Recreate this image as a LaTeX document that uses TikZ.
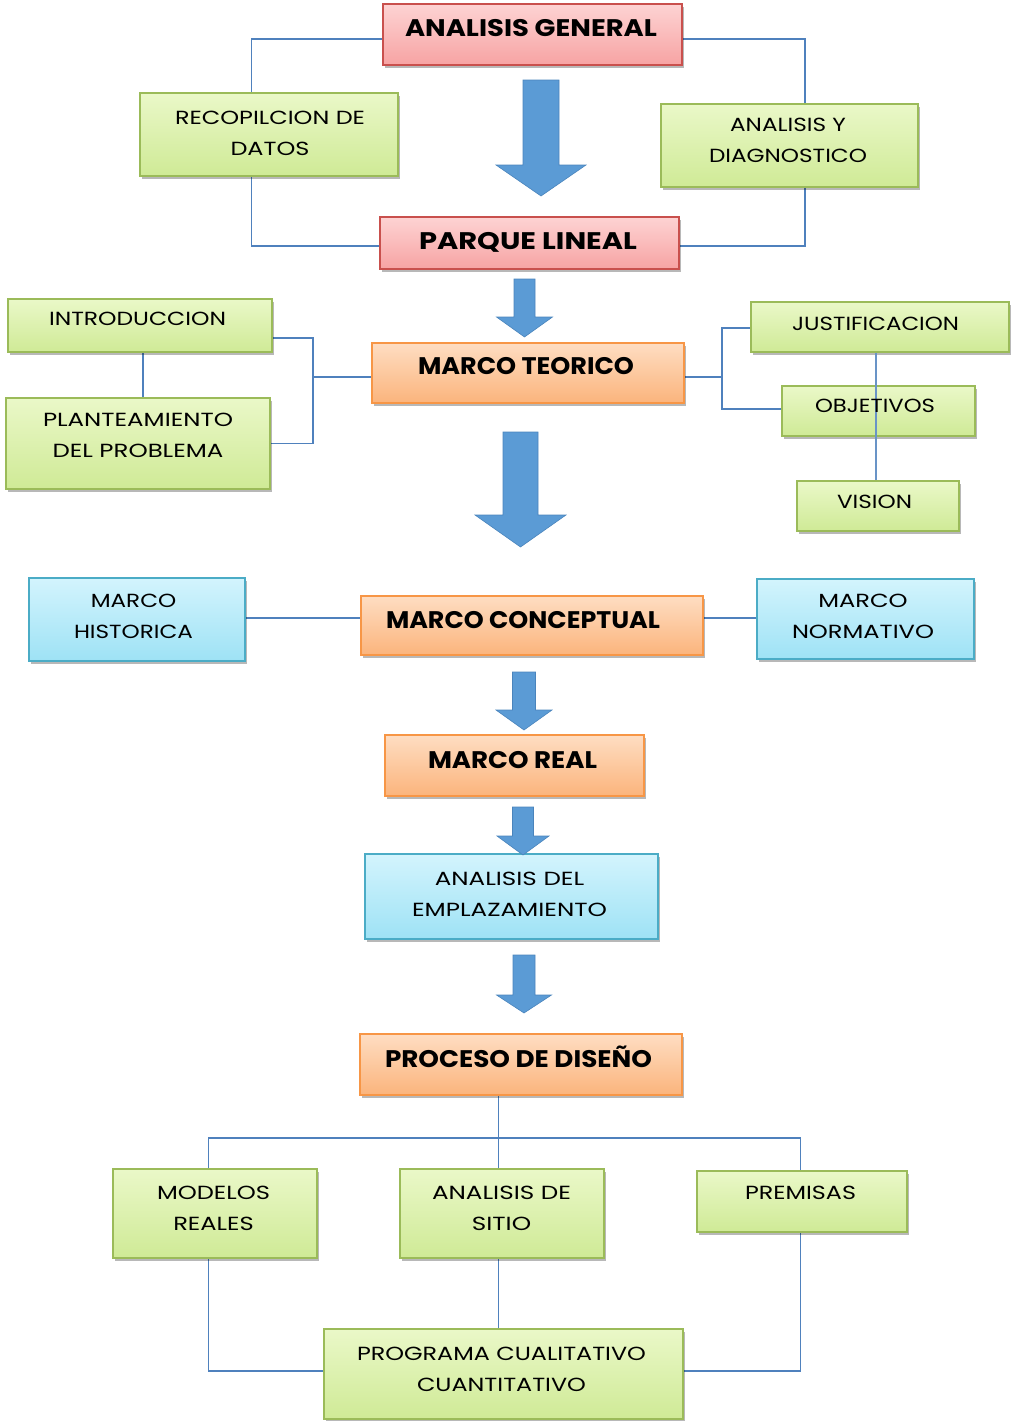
\documentclass[tikz,border=0pt]{standalone}
\usepackage{fontspec}
\setmainfont{Poppins}
\usepackage{graphicx}
\usetikzlibrary{shadows,backgrounds}

\definecolor{redB}{HTML}{F7A3A3}
\definecolor{redT}{HTML}{FDD3D3}
\definecolor{redE}{HTML}{C9504D}
\definecolor{grnT}{HTML}{EAF8C8}
\definecolor{grnB}{HTML}{CFEA96}
\definecolor{grnE}{HTML}{9BBB59}
\definecolor{orgT}{HTML}{FEDDC2}
\definecolor{orgB}{HTML}{FBB47C}
\definecolor{orgE}{HTML}{F79646}
\definecolor{bluT}{HTML}{D3F4FD}
\definecolor{bluB}{HTML}{9EE2F5}
\definecolor{bluE}{HTML}{4BACC6}
\definecolor{lineblue}{HTML}{4F81BD}
\definecolor{arrowblue}{HTML}{5B9BD5}
\definecolor{arrowedge}{HTML}{4A84BC}

\newsavebox\fitbox
\newcommand\fitw[2]{\sbox\fitbox{#2}\pgfmathsetmacro\fitsx{#1/\the\wd\fitbox}\scalebox{\fitsx}[1]{\usebox\fitbox}}
\newcommand\fB{\fontsize{24}{42}\selectfont\bfseries}
\newcommand\fR{\fontsize{19}{31}\selectfont}

\newcommand\bx[6]{\node[#6,minimum width={(#4-#2)*1pt},minimum height={(#5-#3)*1pt}] (#1) at ({(#2+#4)/2},{(#3+#5)/2}) {};}
\newcommand\tx[6]{\node[lbl] (#1) at (#2,#3) {#4\fitw{#5}{\begin{tabular}{@{}c@{}}#6\end{tabular}}};}
\newcommand\barrow[6]{% cx, shaft width, top, head base, tip, head width
  \fill[barrowst] ({#1-#2/2},#3) -- ({#1+#2/2},#3) -- ({#1+#2/2},#4) -- ({#1+#6/2},#4)
     -- (#1,#5) -- ({#1-#6/2},#4) -- ({#1-#2/2},#4) -- cycle;}

\tikzset{
  box/.style={draw, line width=1.4pt, inner sep=0pt,
    drop shadow={shadow xshift=1.5pt, shadow yshift=-3pt, opacity=0.28, fill=black}},
  pinkbox/.style={box, draw=redE, top color=redT, bottom color=redB},
  greenbox/.style={box, draw=grnE, top color=grnT, bottom color=grnB},
  orangebox/.style={box, draw=orgE, top color=orgT, bottom color=orgB},
  bluebox/.style={box, draw=bluE, top color=bluT, bottom color=bluB},
  lbl/.style={inner sep=0pt, text=black},
  conn/.style={draw=lineblue, line width=1.8pt},
  barrowst/.style={fill=arrowblue, draw=arrowedge, line width=0.6pt, line join=miter},
}

\begin{document}
\begin{tikzpicture}[x=1pt,y=-1pt]
\useasboundingbox (0,0) rectangle (1011,1421);

% boxes
\bx{ag}{383}{4}{682}{65}{pinkbox}
\bx{pl}{380}{217}{679}{269}{pinkbox}
\bx{rec}{140}{93}{398}{176}{greenbox}
\bx{ayd}{661}{104}{918}{187}{greenbox}
\bx{mt}{372}{343}{684}{403}{orangebox}
\bx{intro}{8}{299}{272}{352}{greenbox}
\bx{plant}{6}{398}{270}{489}{greenbox}
\bx{just}{751}{302}{1009}{352}{greenbox}
\bx{obj}{782}{386}{975}{436}{greenbox}
\bx{vis}{797}{481}{959}{531}{greenbox}
\bx{mh}{29}{578}{245}{661}{bluebox}
\bx{mc}{361}{596}{703}{655}{orangebox}
\bx{mn}{757}{579}{974}{659}{bluebox}
\bx{mr}{385}{735}{644}{796}{orangebox}
\bx{ae}{365}{854}{658}{939}{bluebox}
\bx{pd}{360}{1034}{682}{1095}{orangebox}
\bx{mod}{113}{1169}{317}{1258}{greenbox}
\bx{ads}{400}{1169}{604}{1258}{greenbox}
\bx{prem}{697}{1171}{907}{1232}{greenbox}
\bx{prog}{324}{1329}{683}{1419}{greenbox}

\coordinate (lb) at (313,377);
\coordinate (rb) at (722,377);

% connectors beneath the boxes
\begin{pgfonlayer}{background}
\draw[conn] ([yshift=-4.5pt]ag.west) -| ([xshift=-17.5pt]rec.north);
\draw[conn] ([xshift=-17.5pt]rec.south) |- ([yshift=-3pt]pl.west);
\draw[conn] ([yshift=-4.5pt]ag.east) -| ([xshift=15.5pt]ayd.north);
\draw[conn] ([xshift=15.5pt]ayd.south) |- ([yshift=-3pt]pl.east);
\draw[conn] ([xshift=3pt]intro.south) -- ([xshift=3pt]intro.south |- plant.north);
\draw[conn] ([yshift=-12.5pt]intro.east) -| (lb);
\draw[conn] (plant.east) -| (lb);
\draw[conn] (lb) -- ([yshift=-4pt]mt.west);
\draw[conn] ([yshift=-4pt]mt.east) -- (rb);
\draw[conn] (rb) |- ([yshift=-1pt]just.west);
\draw[conn] (rb) |- ([yshift=2pt]obj.west);
\draw[conn] ([yshift=1.5pt]mh.east) -- ([yshift=7.5pt]mc.west);
\draw[conn] ([yshift=7.5pt]mc.east) -- ([yshift=1pt]mn.west);
\draw[conn] ([xshift=-22.5pt]pd.south) -- ([xshift=-3.5pt]ads.north);
\draw[conn] ([xshift=-6.5pt]mod.north) -- ++(0,-30) -| ([xshift=-1.5pt]prem.north);
\draw[conn] ([xshift=-6.5pt]mod.south) |- ([yshift=3pt]prog.west);
\draw[conn] ([xshift=-3.5pt]ads.south) -- ([xshift=-3.5pt]ads.south |- prog.north);
\draw[conn] ([xshift=-1.5pt]prem.south) |- ([yshift=3pt]prog.east);
\end{pgfonlayer}

% line running over OBJETIVOS
\draw[conn, draw=lineblue!85] ([xshift=-4pt]just.south) -- ([xshift=-4pt]just.south |- vis.north);

% block arrows
\barrow{541}{36}{80}{165}{196}{90}
\barrow{524.5}{21}{279}{317}{337}{56}
\barrow{520.5}{35}{432}{515}{547}{91}
\barrow{524}{23}{672}{710}{730}{56}
\barrow{523}{21}{807}{836}{855}{52}
\barrow{524}{22}{955}{995}{1013}{55}

% texts
\tx{agt}{531}{28.5}{\fB}{252}{ANALISIS GENERAL}
\tx{plt}{528}{241.5}{\fB}{218}{PARQUE LINEAL}
\tx{mtt}{526}{366}{\fB}{216}{MARCO TEORICO}
\tx{mct}{523}{620.5}{\fB}{274}{MARCO CONCEPTUAL}
\tx{mrt}{512.5}{760}{\fB}{169}{MARCO REAL}
\tx{pdt}{518.5}{1059}{\fB}{267}{PROCESO DE DISEÑO}
\tx{rect}{270}{133.5}{\fR}{190}{RECOPILCION DE\\DATOS}
\tx{aydt}{788}{141}{\fR}{158}{ANALISIS Y\\DIAGNOSTICO}
\tx{introt}{137.5}{319.5}{\fR}{177}{INTRODUCCION}
\tx{plantt}{138}{436}{\fR}{190}{PLANTEAMIENTO\\DEL PROBLEMA}
\tx{justt}{875.5}{324}{\fR}{167}{JUSTIFICACION}
\tx{objt}{875}{406.5}{\fR}{120}{OBJETIVOS}
\tx{vist}{874.5}{502.5}{\fR}{75}{VISION}
\tx{mht}{133.5}{617}{\fR}{119}{MARCO\\HISTORICA}
\tx{mnt}{863}{617}{\fR}{142}{MARCO\\NORMATIVO}
\tx{aet}{509.5}{894.5}{\fR}{195}{ANALISIS DEL\\EMPLAZAMIENTO}
\tx{modt}{213.5}{1208.5}{\fR}{113}{MODELOS\\REALES}
\tx{adst}{501.5}{1208.5}{\fR}{139}{ANALISIS DE\\SITIO}
\tx{premt}{800.5}{1193.5}{\fR}{111}{PREMISAS}
\tx{progt}{501.5}{1369.5}{\fR}{289}{PROGRAMA CUALITATIVO\\CUANTITATIVO}
\end{tikzpicture}
\end{document}
